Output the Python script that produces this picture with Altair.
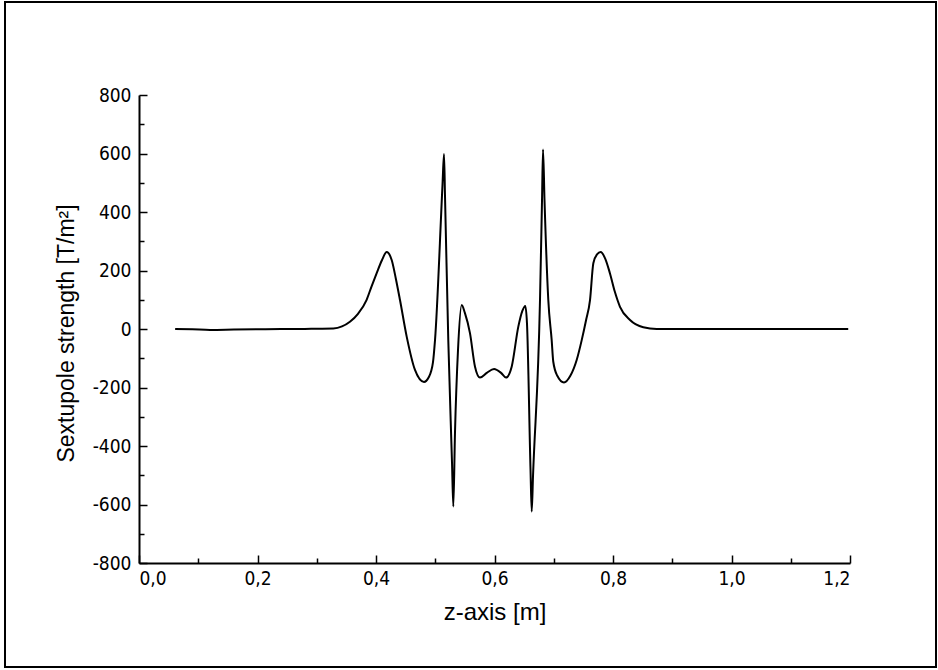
import altair as alt
import pandas as pd

# Longitudinal position along the magnet axis [m]
z_pos = [
    0.061, 0.090, 0.120, 0.160, 0.200, 0.240, 0.272, 0.300, 0.328, 0.3426,
    0.356, 0.3696, 0.384, 0.3924, 0.401, 0.410, 0.418, 0.4265, 0.4335, 0.4405,
    0.4518, 0.4658, 0.4810, 0.4890, 0.4962, 0.4996, 0.5122, 0.5148, 0.5165, 0.5220,
    0.5283, 0.5305, 0.5333, 0.5384, 0.5446, 0.5500, 0.5586, 0.5671, 0.5755, 0.5870,
    0.5992, 0.6110, 0.6194, 0.6290, 0.6402, 0.6470, 0.6520, 0.6548, 0.6608, 0.6628,
    0.6650, 0.6768, 0.6802, 0.6819, 0.6844, 0.6908, 0.6965, 0.6992, 0.7060, 0.7173,
    0.7280, 0.7387, 0.7472, 0.7545, 0.7612, 0.7668, 0.7730, 0.7792, 0.7870, 0.7949,
    0.8030, 0.8118, 0.8287, 0.8511, 0.8738, 0.9200, 1.0000, 1.1000, 1.1970,
]

# Sextupole strength [T/m^2]
strength = [
    0, -1, -3, -2, -1, 0, 0, 1, 2, 9,
    25, 52, 99, 145, 190, 235, 263, 236, 172, 99,
    -26, -140, -181, -165, -113, -38, 491, 598, 451, -38,
    -458, -607, -356, -72, 82, 55, -14, -129, -166, -150,
    -137, -150, -166, -129, 8, 62, 79, 20, -482, -624,
    -503, 99, 441, 614, 441, 99, -38, -112, -160, -183,
    -160, -106, -38, 30, 99, 225, 255, 263, 240, 190,
    128, 76, 31, 6, 0, 0, 0, 0, 0,
]

x_major = [0.0, 0.2, 0.4, 0.6, 0.8, 1.0, 1.2]
x_minor = [0.1, 0.3, 0.5, 0.7, 0.9, 1.1]
y_major = [-800, -600, -400, -200, 0, 200, 400, 600, 800]
y_minor = [-700, -500, -300, -100, 100, 300, 500, 700]

W, H = 711, 468
LABEL_FONT = "'Liberation Sans Narrow', 'DejaVu Sans Condensed', 'Roboto Condensed', 'Liberation Sans', sans-serif"
TITLE_FONT = "'Liberation Sans', Arial, sans-serif"

df = pd.DataFrame({"z": z_pos, "v": strength})

x_scale = alt.Scale(domain=[0, 1.2], nice=False, zero=False)
y_scale = alt.Scale(domain=[-800, 800], nice=False)

base = alt.Chart(df)

# Curve with the labelled left/bottom axes (ticks drawn separately, pointing inward)
curve = base.mark_line(color="black", strokeWidth=2, interpolate="monotone").encode(
    x=alt.X(
        "z:Q",
        scale=x_scale,
        axis=alt.Axis(
            values=x_major,
            ticks=False,
            grid=False,
            domainColor="black",
            domainWidth=2,
            labelFont=LABEL_FONT,
            labelFontSize=19,
            labelColor="black",
            labelPadding=6,
            labelExpr="replace(format(datum.value, '.1f'), '.', ',')",
            title="z-axis [m]",
            titleFont=TITLE_FONT,
            titleFontSize=24,
            titleFontWeight="normal",
            titleColor="black",
            titleX=W / 2,
            titleY=37,
        ),
    ),
    y=alt.Y(
        "v:Q",
        scale=y_scale,
        axis=alt.Axis(
            values=y_major,
            ticks=False,
            grid=False,
            domainColor="black",
            domainWidth=2,
            labelFont=LABEL_FONT,
            labelFontSize=19,
            labelColor="black",
            labelPadding=8,
            labelExpr="datum.value + ''",
            title="Sextupole strength [T/m²]",
            titleFont=TITLE_FONT,
            titleFontSize=23,
            titleFontWeight="normal",
            titleColor="black",
            titleX=-61,
            titleY=H / 2 + 4,
        ),
    ),
)


def tick_layer(xv, yv, size):
    # Invisible copy of the curve whose axes are moved onto the plot edges,
    # so their ticks point into the plot area.
    return base.mark_line(opacity=0).encode(
        x=alt.X(
            "z:Q",
            scale=x_scale,
            axis=alt.Axis(
                orient="top", offset=-H, values=xv, labels=False, domain=False,
                grid=False, title="", tickSize=size,
                tickColor="black", tickWidth=1.5,
            ),
        ),
        y=alt.Y(
            "v:Q",
            scale=y_scale,
            axis=alt.Axis(
                orient="right", offset=-W, values=yv, labels=False, domain=False,
                grid=False, title="", tickSize=size,
                tickColor="black", tickWidth=1.5,
            ),
        ),
    )


major_ticks = tick_layer(x_major, y_major, 8)
minor_ticks = tick_layer(x_minor, y_minor, 5)

# Outer border around the whole figure
frame = alt.Chart(alt.Data(values=[{}])).mark_rect(
    filled=False, stroke="black", strokeWidth=2, clip=False
).encode(
    x=alt.value(-134), x2=alt.value(797), y=alt.value(-93), y2=alt.value(572)
)

chart = (
    alt.layer(curve, major_ticks, minor_ticks, frame)
    .resolve_axis(x="independent", y="independent")
    .properties(
        width=W,
        height=H,
        padding={"left": 139, "top": 95, "right": 88, "bottom": 107},
        autosize=alt.AutoSizeParams(type="none"),
        background="white",
    )
    .configure_view(stroke="transparent")
)

chart.save("out.html", embed_options={"renderer": "svg", "actions": False})
